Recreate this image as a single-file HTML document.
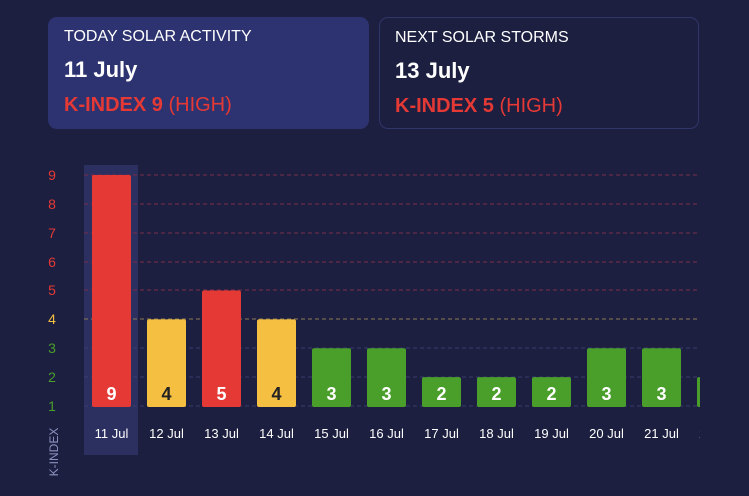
<!DOCTYPE html>
<html><head><meta charset="utf-8"><style>
body{margin:0;width:749px;height:496px;background:#1c1f40;font-family:"Liberation Sans",sans-serif;overflow:hidden;position:relative}
.card{position:absolute;top:17px;height:112px;border-radius:9px;box-sizing:border-box;padding:0 16px}
.c1{left:48px;width:321px;background:#2d3370}
.c2{left:379px;width:320px;border:1px solid #30366a;padding:0 15px}
.t{position:absolute;top:11px;color:#fff;font-size:16px}
.d{position:absolute;top:40px;color:#fff;font-size:22px;font-weight:bold}
.k{position:absolute;top:77px;color:#e53935;font-size:20px}
</style></head><body>
<div class="card c1"><div class="t">TODAY SOLAR ACTIVITY</div><div class="d">11 July</div><div class="k"><b>K-INDEX 9</b> (HIGH)</div></div>
<div class="card c2"><div class="t">NEXT SOLAR STORMS</div><div class="d">13 July</div><div class="k"><b>K-INDEX 5</b> (HIGH)</div></div>
<svg width="749" height="496" style="position:absolute;left:0;top:0" font-family="Liberation Sans, sans-serif">
<rect x="84" y="165" width="54" height="290" fill="#2b3060"/>
<g stroke-width="1" stroke-dasharray="4,3">
<line x1="84" x2="700" y1="175" y2="175" stroke="#7a2d4a"/>
<line x1="84" x2="700" y1="204" y2="204" stroke="#7a2d4a"/>
<line x1="84" x2="700" y1="233" y2="233" stroke="#7a2d4a"/>
<line x1="84" x2="700" y1="262" y2="262" stroke="#7a2d4a"/>
<line x1="84" x2="700" y1="290" y2="290" stroke="#7a2d4a"/>
<line x1="84" x2="700" y1="319" y2="319" stroke="#8a7a50"/>
<line x1="84" x2="700" y1="348" y2="348" stroke="#383e6e"/>
<line x1="84" x2="700" y1="377" y2="377" stroke="#383e6e"/>
<line x1="84" x2="700" y1="406" y2="406" stroke="#383e6e"/>
</g>
<g font-size="14" text-anchor="middle">
<text x="52" y="180" fill="#e53935">9</text>
<text x="52" y="209" fill="#e53935">8</text>
<text x="52" y="238" fill="#e53935">7</text>
<text x="52" y="267" fill="#e53935">6</text>
<text x="52" y="295" fill="#e53935">5</text>
<text x="52" y="324" fill="#f5c042">4</text>
<text x="52" y="353" fill="#4a9e2a">3</text>
<text x="52" y="382" fill="#4a9e2a">2</text>
<text x="52" y="411" fill="#4a9e2a">1</text>
</g>
<text transform="translate(58,452) rotate(-90)" font-size="12" fill="#8d93c0" text-anchor="middle">K-INDEX</text>
<svg x="0" y="0" width="700" height="496">
<g id="bars"></g>
<g id="xl" font-size="13" fill="#fff" text-anchor="middle"></g>
</svg>
</svg>
<script>
var v=[9,4,5,4,3,3,2,2,2,3,3,2],ns="http://www.w3.org/2000/svg",b=document.getElementById('bars'),xl=document.getElementById('xl');
v.forEach(function(k,i){var x=92+55*i,top=406-(k-1)*28.875;
var c=k>=5?'#e53935':k==4?'#f5c042':'#4a9e2a';
var r=document.createElementNS(ns,'rect');r.setAttribute('x',x);r.setAttribute('y',top);r.setAttribute('width',39);r.setAttribute('height',407-top);r.setAttribute('rx',2);r.setAttribute('fill',c);b.appendChild(r);
var t=document.createElementNS(ns,'text');t.setAttribute('x',x+19.5);t.setAttribute('y',400);t.setAttribute('text-anchor','middle');t.setAttribute('font-size','18');t.setAttribute('font-weight','bold');t.setAttribute('fill',k==4?'#222':'#fff');t.textContent=k;b.appendChild(t);
var l=document.createElementNS(ns,'text');l.setAttribute('x',x+19.5);l.setAttribute('y',438);l.textContent=(11+i)+' Jul';
xl.appendChild(l);});
</script>
</body></html>
